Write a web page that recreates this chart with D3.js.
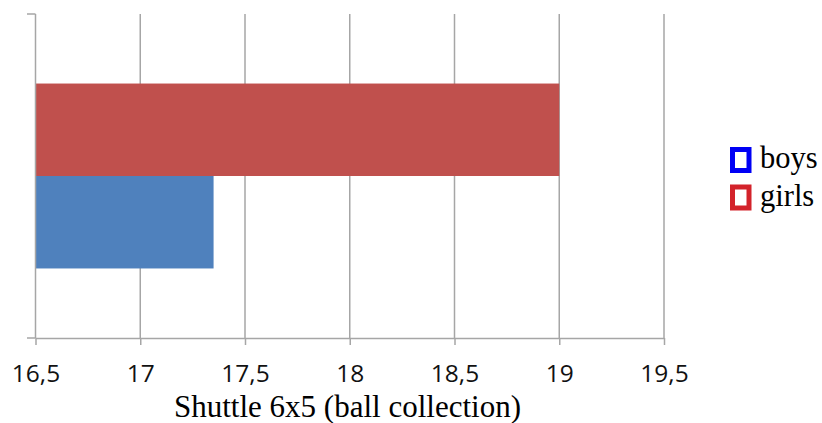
<!DOCTYPE html>
<html><head><meta charset="utf-8">
<script src="https://cdn.jsdelivr.net/npm/d3@7"></script>
<style>body{margin:0;background:#fff;} svg{display:block;}</style>
</head><body>
<svg id="chart" width="822" height="423"></svg>
<script>
const categories = ["Shuttle 6x5 (ball collection)"];
const seriesNames = ["boys", "girls"];
const boysValues = [17.35];
const girlsValues = [19];
const tickValues = [16.5, 17, 17.5, 18, 18.5, 19, 19.5];
const barColors = {boys: "#4F81BD", girls: "#C0504D"};
const legendColors = {boys: "#0000F5", girls: "#D3232B"};

(function () {
const svg = d3.select("#chart");
const mLeft = 35.5, mRight = 664, mTop = 14, mBottom = 338;
const x = d3.scaleLinear().domain([16.5, 19.5]).range([mLeft, mRight]);
const y = d3.scaleBand().domain(categories).range([mTop, mBottom]).paddingInner(0).paddingOuter(0.376);
const ySub = d3.scaleBand().domain(["girls", "boys"]).range([0, y.bandwidth()]);
const gridColor = "#A6A6A6";

// gridlines
svg.append("g").selectAll("line").data(tickValues.slice(1)).join("line")
  .attr("x1", d => x(d)).attr("x2", d => x(d))
  .attr("y1", mTop).attr("y2", mBottom)
  .attr("stroke", gridColor).attr("stroke-width", 1.5);

// bars
const data = [];
categories.forEach((c, i) => {
  data.push({cat: c, s: "girls", v: girlsValues[i]});
  data.push({cat: c, s: "boys", v: boysValues[i]});
});
svg.append("g").selectAll("rect").data(data).join("rect")
  .attr("x", x(16.5))
  .attr("y", d => y(d.cat) + ySub(d.s))
  .attr("width", d => x(d.v) - x(16.5))
  .attr("height", ySub.bandwidth())
  .attr("fill", d => barColors[d.s]);

// y axis line with end ticks
svg.append("line").attr("x1", mLeft).attr("x2", mLeft).attr("y1", mTop).attr("y2", mBottom)
  .attr("stroke", gridColor).attr("stroke-width", 1.5);
[mTop, mBottom].forEach(yy => svg.append("line").attr("x1", 27).attr("x2", mLeft).attr("y1", yy).attr("y2", yy)
  .attr("stroke", gridColor).attr("stroke-width", 1.5));

// x axis
const fmt = d => String(d).replace(".", ",");
const xAxis = d3.axisBottom(x).tickValues(tickValues).tickFormat(fmt).tickSizeInner(7).tickSizeOuter(0).tickPadding(12);
const gx = svg.append("g").attr("transform", `translate(0,${mBottom})`).call(xAxis);
gx.select(".domain").attr("stroke", gridColor).attr("stroke-width", 1.5);
gx.selectAll(".tick line").attr("stroke", gridColor).attr("stroke-width", 1.5);
gx.selectAll(".tick text").attr("fill", "#111").attr("font-family", "'Open Sans', sans-serif").attr("font-size", 24.5).attr("dy", null).attr("y", 44);

// axis title
svg.append("text").attr("x", 347.5).attr("y", 417).attr("text-anchor", "middle")
  .attr("font-family", "'Liberation Serif', 'Times New Roman', serif").attr("font-size", 31).attr("fill", "#000")
  .text(categories[0]);

// legend
const lg = svg.append("g").selectAll("g").data(seriesNames).join("g")
  .attr("transform", (d, i) => `translate(730,${147 + i * 37.5})`);
lg.append("rect").attr("x", 2.5).attr("y", 2.5).attr("width", 16.5).attr("height", 21)
  .attr("fill", "#fff").attr("stroke", d => legendColors[d]).attr("stroke-width", 5);
lg.append("text").attr("x", 30).attr("y", 21)
  .attr("font-family", "'Liberation Serif', 'Times New Roman', serif").attr("font-size", 30.5).attr("fill", "#000")
  .text(d => d);
})();
</script>
</body></html>
